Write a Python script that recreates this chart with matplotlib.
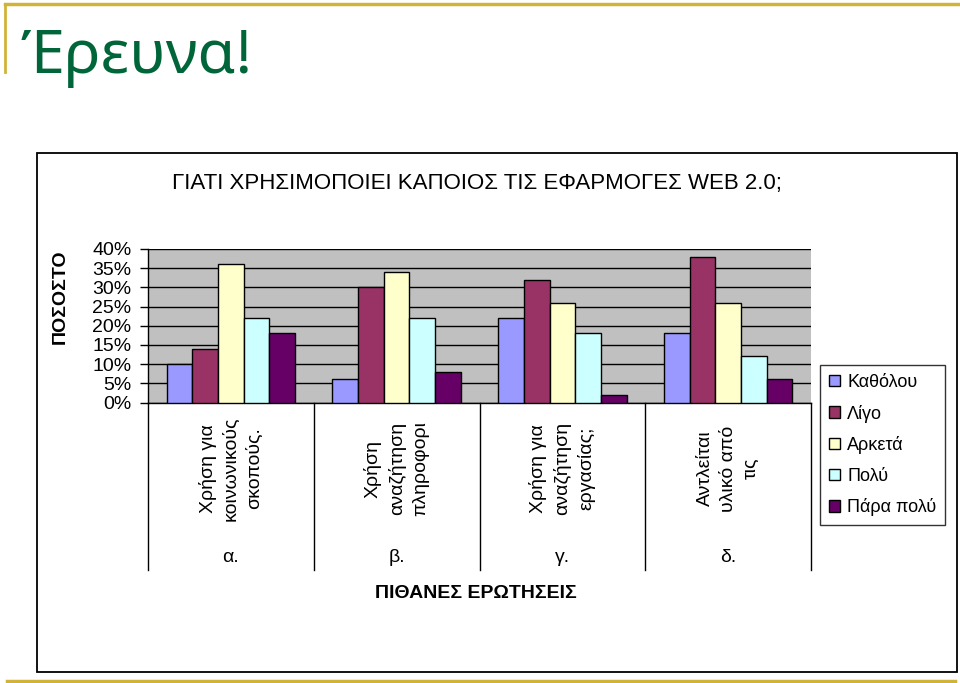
import matplotlib.pyplot as plt
import numpy as np
from matplotlib.patches import Rectangle, Patch
from matplotlib.lines import Line2D

plt.rcParams['font.family'] = ['Liberation Sans', 'DejaVu Sans']

# data (percent)
questions = ['Χρήση για\nκοινωνικούς\nσκοπούς.',
             'Χρήση\nαναζήτηση\nπληροφορι',
             'Χρήση για\nαναζήτηση\nεργασίας;',
             'Αντλείται\nυλικό από\nτις']
letters = ['α.', 'β.', 'γ.', 'δ.']
answers = ['Καθόλου', 'Λίγο', 'Αρκετά', 'Πολύ', 'Πάρα πολύ']
katholou = [10, 6, 22, 18]
ligo = [14, 30, 32, 38]
arketa = [36, 34, 26, 26]
poly = [22, 22, 18, 12]
para_poly = [18, 8, 2, 6]
colors = ['#9999FF', '#993366', '#FFFFCC', '#CCFFFF', '#660066']
yticks = [0, 5, 10, 15, 20, 25, 30, 35, 40]

series = [katholou, ligo, arketa, poly, para_poly]

W, H = 960, 683
fig = plt.figure(figsize=(W/100, H/100), dpi=100)

def fx(px):
    return px/W
def fy(py):
    return 1 - py/H

# slide decoration
gold = '#D2B33A'
fig.add_artist(Line2D([fx(5), fx(960)], [fy(4), fy(4)], color=gold, lw=2.5))
fig.add_artist(Line2D([fx(5), fx(5)], [fy(4), fy(72)], color=gold, lw=2))
fig.add_artist(Line2D([fx(7), fx(955)], [fy(681), fy(681)], color=gold, lw=2.5))
fig.text(fx(20), fy(57), 'Έρευνα!', color='#00663A', fontsize=44,
         family=['Noto Sans', 'DejaVu Sans'], va='center', ha='left')

# chart frame
fig.add_artist(Rectangle((fx(37), fy(672)), fx(957)-fx(37), fy(153)-fy(672),
                         transform=fig.transFigure, fill=False, ec='black', lw=1.3))

fig.text(fx(477), fy(183), 'ΓΙΑΤΙ ΧΡΗΣΙΜΟΠΟΙΕΙ ΚΑΠΟΙΟΣ ΤΙΣ ΕΦΑΡΜΟΓΕΣ WEB 2.0;',
         fontsize=16, ha='center', va='center')

ax = fig.add_axes([fx(148), fy(402.5), fx(811)-fx(148), fy(249)-fy(402.5)])
ax.set_facecolor('#C0C0C0')

x = np.arange(len(questions))
bw = 0.155
for i, (vals, c) in enumerate(zip(series, colors)):
    ax.bar(x + (i-2)*bw, vals, bw, color=c, edgecolor='black', linewidth=1, zorder=3)

ax.set_xlim(-0.5, 3.5)
ax.set_ylim(0, 40)
ax.set_yticks(yticks)
ax.set_yticklabels([f'{v}%' for v in yticks], fontsize=14)
ax.tick_params(axis='y', length=6, width=1, pad=6, direction='out')
ax.set_xticks([])
ax.yaxis.grid(True, color='black', lw=1, zorder=1)
ax.set_axisbelow(True)
for s in ['top', 'right']:
    ax.spines[s].set_visible(False)
ax.spines['left'].set_linewidth(1)
ax.spines['bottom'].set_linewidth(1)

# category table below the plot
trans = ax.get_xaxis_transform()
for d in np.arange(-0.5, 4, 1):
    ax.plot([d, d], [0, -1.09], color='black', lw=1, transform=trans, clip_on=False)
for xi, q, l in zip(x, questions, letters):
    ax.text(xi, -0.43, q, rotation=90, ha='center', va='center', multialignment='center',
            fontsize=14, linespacing=1.45, transform=trans)
    ax.text(xi, -1.01, l, ha='center', va='center', fontsize=14, transform=trans)

fig.text(fx(476), fy(593), 'ΠΙΘΑΝΕΣ ΕΡΩΤΗΣΕΙΣ', fontsize=14, fontweight='bold',
         ha='center', va='center')
fig.text(fx(60), fy(297), 'ΠΟΣΟΣΤΟ', fontsize=14, fontweight='bold', rotation=90,
         ha='center', va='center')

handles = [Patch(facecolor=c, edgecolor='black', lw=1) for c in colors]
leg = fig.legend(handles, answers, loc='upper left', bbox_to_anchor=(fx(820), fy(365)),
                 fontsize=13, frameon=True, fancybox=False, edgecolor='black',
                 handlelength=0.6, handleheight=0.6, handletextpad=0.4,
                 labelspacing=0.75, borderpad=0.5, borderaxespad=0)
leg.get_frame().set_linewidth(1)

fig.savefig('out.png', dpi=100)
